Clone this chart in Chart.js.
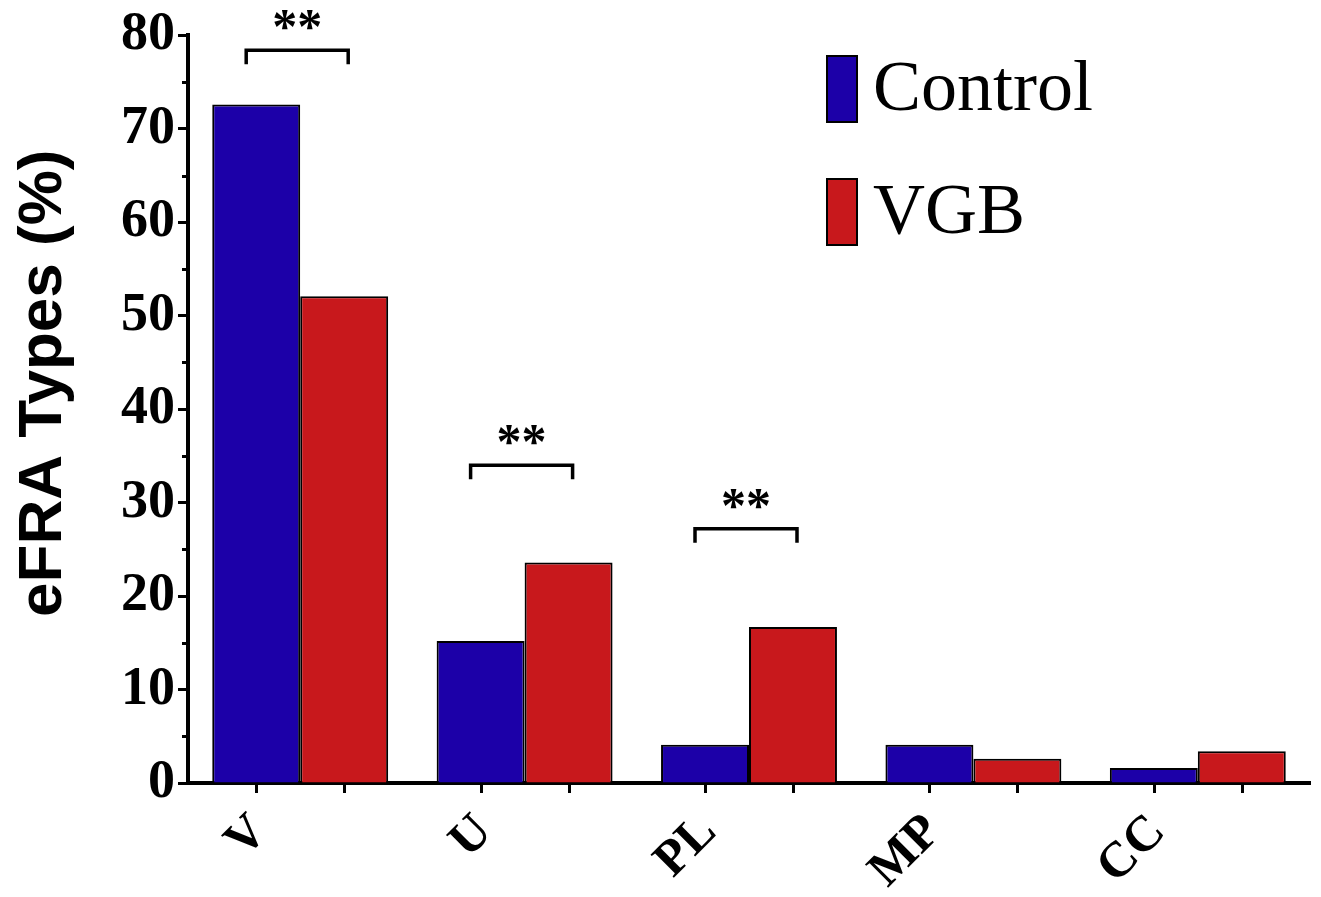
<!DOCTYPE html>
<html><head><meta charset="utf-8">
<script src="https://cdn.jsdelivr.net/npm/chart.js@4.4.1/dist/chart.umd.min.js"></script>
<style>html,body{margin:0;padding:0;background:#fff;}#wrap{width:1321px;height:897px;}</style>
</head><body><div id="wrap"><canvas id="c" width="1321" height="897"></canvas></div>
<script>
const categories = ['V', 'U', 'PL', 'MP', 'CC'];
const controlValues = [72.6, 15.2, 4.1, 4.1, 1.6];
const vgbValues = [52.1, 23.6, 16.7, 2.6, 3.4];
const seriesNames = ['Control', 'VGB'];
const seriesColors = ['#1c00a8', '#c8181c'];
const yTickValues = [0, 10, 20, 30, 40, 50, 60, 70, 80];
const yMinorTicks = [5, 15, 25, 35, 45, 55, 65, 75];
const sigCategories = ['V', 'U', 'PL'];
const sigLevels = [78.4, 34.0, 27.2];
const sigLabels = ['**', '**', '**'];
const yTitle = 'eFRA Types (%)';

const SERIF = '"Liberation Serif", "Times New Roman", serif';
const SANS = '"Liberation Sans", Arial, sans-serif';

const decorPlugin = {
  id: 'decor',
  afterDraw(chart) {
    const ctx = chart.ctx;
    const ca = chart.chartArea;
    const xs = chart.scales.x, ys = chart.scales.y;
    ctx.save();
    ctx.strokeStyle = '#000';
    ctx.lineCap = 'butt';
    // x ticks under each bar center
    ctx.lineWidth = 3;
    chart.data.datasets.forEach((ds, di) => {
      chart.getDatasetMeta(di).data.forEach(el => {
        ctx.beginPath();
        ctx.moveTo(Math.round(el.x) + 0.5, ca.bottom + 1);
        ctx.lineTo(Math.round(el.x) + 0.5, ca.bottom + 10);
        ctx.stroke();
      });
    });
    // minor y ticks
    yMinorTicks.forEach(v => {
      const py = Math.round(ys.getPixelForValue(v)) + 0.5;
      ctx.beginPath();
      ctx.moveTo(ca.left - 6, py);
      ctx.lineTo(ca.left, py);
      ctx.stroke();
    });
    // y axis title
    ctx.save();
    ctx.fillStyle = '#000';
    ctx.font = 'bold 62px ' + SANS;
    ctx.textAlign = 'center';
    ctx.textBaseline = 'middle';
    ctx.translate(44, (ca.top + ca.bottom) / 2 - 26);
    ctx.rotate(-Math.PI / 2);
    ctx.fillText(yTitle, 0, 0);
    ctx.restore();
    // significance brackets
    ctx.lineWidth = 3.5;
    ctx.fillStyle = '#000';
    ctx.font = 'bold 50px ' + SERIF;
    ctx.textAlign = 'center';
    ctx.textBaseline = 'middle';
    sigCategories.forEach((cat, i) => {
      const idx = categories.indexOf(cat);
      const cx = xs.getPixelForValue(idx);
      const py = ys.getPixelForValue(sigLevels[i]);
      const l = cx - 54, r = cx + 48;
      ctx.beginPath();
      ctx.moveTo(l, py + 14);
      ctx.lineTo(l, py);
      ctx.lineTo(r, py);
      ctx.lineTo(r, py + 14);
      ctx.stroke();
      ctx.fillText(sigLabels[i], (l + r) / 2, py - 20);
    });
    // legend
    ctx.textAlign = 'left';
    ctx.font = '72px ' + SERIF;
    chart.data.datasets.forEach((ds, di) => {
      const bx = 827, by = 56 + di * 123, bw = 30, bh = 66;
      ctx.fillStyle = ds.backgroundColor;
      ctx.fillRect(bx, by, bw, bh);
      ctx.lineWidth = 2;
      ctx.strokeStyle = '#000';
      ctx.strokeRect(bx, by, bw, bh);
      ctx.fillStyle = '#000';
      ctx.fillText(ds.label, 873, by + bh / 2 + 2);
    });
    ctx.restore();
  }
};

new Chart(document.getElementById('c'), {
  type: 'bar',
  data: {
    labels: categories,
    datasets: [
      { label: seriesNames[0], data: controlValues, backgroundColor: seriesColors[0], borderColor: '#000', borderWidth: 2 },
      { label: seriesNames[1], data: vgbValues, backgroundColor: seriesColors[1], borderColor: '#000', borderWidth: 2 }
    ]
  },
  options: {
    responsive: false,
    animation: false,
    devicePixelRatio: 1,
    layout: { padding: { top: 35, right: 11, left: 0, bottom: 0 } },
    datasets: { bar: { categoryPercentage: 0.784, barPercentage: 1.0 } },
    plugins: { legend: { display: false }, tooltip: { enabled: false } },
    scales: {
      x: {
        grid: { display: false },
        border: { display: true, color: '#000', width: 4 },
        ticks: {
          color: '#000', maxRotation: 45, minRotation: 45, padding: 12, labelOffset: -40,
          font: { family: SERIF, size: 50, weight: 'bold' }
        },
        afterFit(s) { s.height = 114; }
      },
      y: {
        min: 0, max: 80,
        afterBuildTicks(s) { s.ticks = yTickValues.map(v => ({ value: v })); },
        grid: { drawOnChartArea: false, drawTicks: true, tickLength: 10, tickWidth: 3, tickColor: '#000' },
        border: { display: true, color: '#000', width: 4 },
        ticks: { color: '#000', padding: 3, font: { family: SERIF, size: 54, weight: 'bold' } },
        title: { display: false },
        afterFit(s) { s.width = 188; }
      }
    }
  },
  plugins: [decorPlugin]
});
</script>
</body></html>
